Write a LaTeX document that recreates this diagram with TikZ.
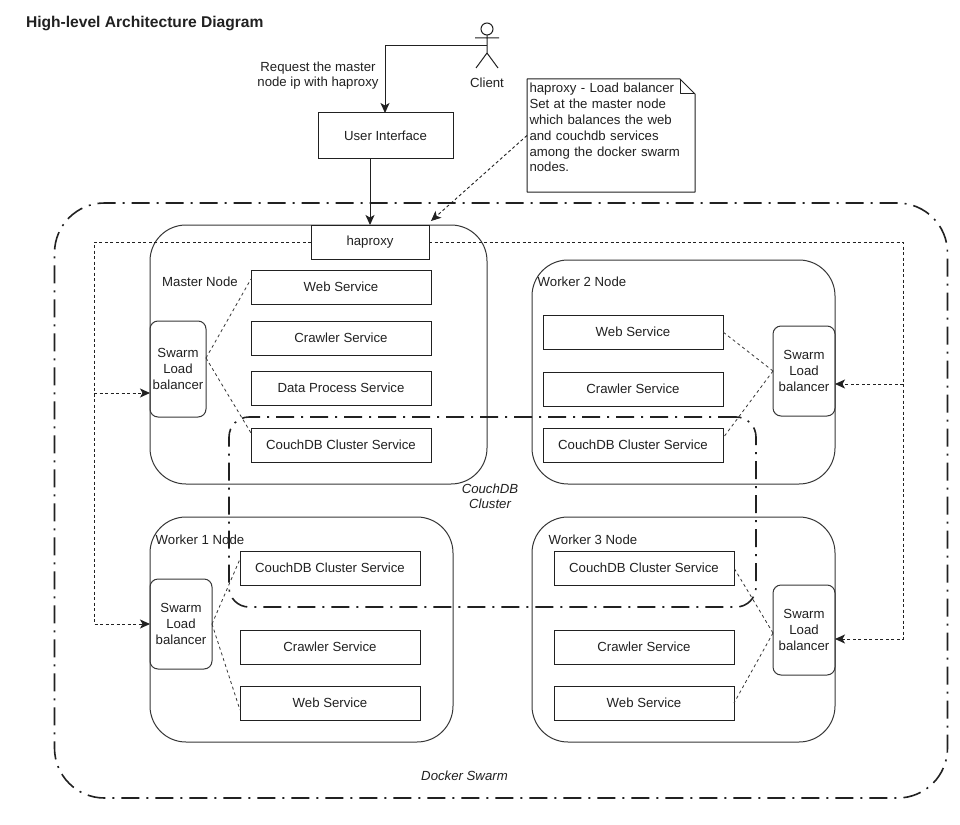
\documentclass[tikz,border=0pt]{standalone}
\usepackage{fontspec}
\setmainfont{Liberation Sans}
\usetikzlibrary{arrows.meta}
\definecolor{ink}{gray}{0.13}
\tikzset{
  x=1pt,y=-1pt,
  every node/.style={text=ink,font=\fontsize{13.2}{15.8}\selectfont,inner sep=0pt,outer sep=0pt},
  boxed/.style={draw=ink,line width=1pt,rectangle,anchor=north west},
  svc/.style={boxed,fill=white,minimum width=180pt,minimum height=34pt},
  hostbox/.style={draw=ink!90,line width=1pt,rectangle,rounded corners=36pt,anchor=north west,minimum width=#1},
  lb/.style={draw=ink!90,line width=1pt,rectangle,rounded corners=8pt,anchor=north west,minimum width=#1,align=center},
  lbdash/.style={draw=ink!90,line width=0.8pt,dash pattern=on 3pt off 3pt},
  flow/.style={draw=ink,line width=0.9pt,dash pattern=on 3pt off 2.5pt,-{Stealth[length=10pt,width=9pt,inset=2.5pt]}},
  solidarrow/.style={draw=ink,line width=1pt,-{Stealth[length=10pt,width=9pt,inset=2.5pt]}},
  group/.style={draw=ink,line width=1.6pt,dash pattern=on 18pt off 7pt on 2pt off 7pt},
  lab/.style={align=center},
  ilab/.style={align=center,font=\fontsize{13.2}{15.4}\selectfont\itshape},
}
\begin{document}
\begin{tikzpicture}
\useasboundingbox[fill=white] (0,0) rectangle (960,824);
% groups
\node[group,rectangle,rounded corners=50pt,anchor=north west,minimum width=893pt,minimum height=595pt] (swarm) at (54.5,203) {};
% hosts
\node[hostbox=337pt,minimum height=259pt] (master) at (150,225) {};
\node[hostbox=303pt,minimum height=224pt] (w2) at (532,260) {};
\node[hostbox=303pt,minimum height=225pt] (w1) at (150,517) {};
\node[hostbox=303pt,minimum height=225pt] (w3) at (532,517) {};
% title and labels
\node[anchor=west,font=\fontsize{15.6}{18}\selectfont\bfseries] (title) at (26,24) {High-level Architecture Diagram};
\node[lab] (req) at (318,75.5) {Request the master\\node ip with haproxy};
\node[lab] (client) at (487,83) {Client};
\node (mlab) at (200,282) {Master Node};
\node (w2lab) at (582,282) {Worker 2 Node};
\node (w1lab) at (200,540) {Worker 1 Node};
\node (w3lab) at (593,540) {Worker 3 Node};
\node[ilab] (cclab) at (490,496) {CouchDB\\Cluster};
\node[ilab] (dslab) at (464.5,776) {Docker Swarm};
% actor
\draw[draw=ink,line width=1pt] (487,29) circle (6pt);
\draw[draw=ink,line width=1pt] (487,35) -- (487,53) (475,38) -- (499,38) (476,68) -- (487,53) -- (498,68);
\coordinate (actor) at (487,46);
% UI and haproxy
\node[boxed,minimum width=135pt,minimum height=45pt] (ui) at (318,113) {User Interface};
\node[boxed,fill=white,minimum width=118pt,minimum height=34pt] (hap) at (311,225) {haproxy};
% note
\node[minimum width=168pt,minimum height=113pt,text width=164pt,align=left,anchor=north west] (note) at (527,79) {\hspace*{0.5pt}haproxy - Load balancer\\\hspace*{0.5pt}Set at the master node\\\hspace*{0.5pt}which balances the web\\\hspace*{0.5pt}and couchdb services\\\hspace*{0.5pt}among the docker swarm\\\hspace*{0.5pt}nodes.\\\mbox{}};
\draw[draw=ink,line width=1pt,line join=round] (note.north west) -- ([xshift=-15pt]note.north east) -- ([yshift=-15pt]note.north east) -- (note.south east) -- (note.south west) -- cycle;
\draw[draw=ink,line width=1pt,line join=round] ([xshift=-15pt]note.north east) -- ([xshift=-15pt,yshift=-15pt]note.north east) -- ([yshift=-15pt]note.north east);
\coordinate (notetarget) at (431,221);
% master services
\node[svc] (mweb) at (251,270) {Web Service};
\node[svc] (mcrawl) at (251,321) {Crawler Service};
\node[svc] (mdata) at (251,371) {Data Process Service};
\node[svc] (mcouch) at (251,428) {CouchDB Cluster Service};
\node[lb=56pt,minimum height=96pt] (mlb) at (150,321) {Swarm\\Load\\balancer};
% worker 2 services
\node[svc] (w2web) at (543,315) {Web Service};
\node[svc] (w2crawl) at (543,372) {Crawler Service};
\node[svc] (w2couch) at (543,428) {CouchDB Cluster Service};
\node[lb=62pt,minimum height=90pt] (w2lb) at (773,326) {Swarm\\Load\\balancer};
% worker 1 services
\node[svc] (w1couch) at (240,551) {CouchDB Cluster Service};
\node[svc] (w1crawl) at (240,630) {Crawler Service};
\node[svc] (w1web) at (240,686) {Web Service};
\node[lb=62pt,minimum height=90pt] (w1lb) at (150,579) {Swarm\\Load\\balancer};
% worker 3 services
\node[svc] (w3couch) at (554,551) {CouchDB Cluster Service};
\node[svc] (w3crawl) at (554,630) {Crawler Service};
\node[svc] (w3web) at (554,686) {Web Service};
\node[lb=62pt,minimum height=90pt] (w3lb) at (773,585) {Swarm\\Load\\balancer};
% couchdb cluster group
\node[group,rectangle,rounded corners=20pt,anchor=north west,minimum width=527pt,minimum height=190pt] (cluster) at (229,417) {};
% solid connectors
\draw[solidarrow] (actor) -| ([xshift=-0.5pt]ui.north);
\draw[solidarrow] ([xshift=-15.5pt]ui.south) -- (hap.north);
\draw[flow] (note.west) -- (notetarget);
% swarm load balancer links
\draw[lbdash] ([yshift=11pt]mlb.east) -- ([yshift=8pt]mweb.west);
\draw[lbdash] ([yshift=11pt]mlb.east) -- ([yshift=12pt]mcouch.west);
\draw[lbdash] (w2lb.west) -- (w2web.east);
\draw[lbdash] (w2lb.west) -- ([yshift=7pt]w2couch.east);
\draw[lbdash] (w1lb.east) -- ([yshift=9pt]w1couch.west);
\draw[lbdash] (w1lb.east) -- ([yshift=-7pt]w1web.west);
\draw[lbdash] ([yshift=-3pt]w3lb.west) -- (w3couch.east);
\draw[lbdash] ([yshift=-3pt]w3lb.west) -- (w3web.east);
% haproxy distribution
\coordinate (leftbus) at (94,242);
\coordinate (rightbus) at (903,242);
\draw[flow] (hap.west) -- (leftbus) |- (w1lb.west);
\draw[flow] (leftbus |- mlb.west) ++(0,24) -- (mlb.west |- 0,393);
\draw[flow] (hap.east) -- (rightbus) |- ([yshift=-9pt]w3lb.east);
\draw[flow] (rightbus |- w2lb.east) ++(0,13) -- ([yshift=-13pt]w2lb.east);
\end{tikzpicture}
\end{document}
